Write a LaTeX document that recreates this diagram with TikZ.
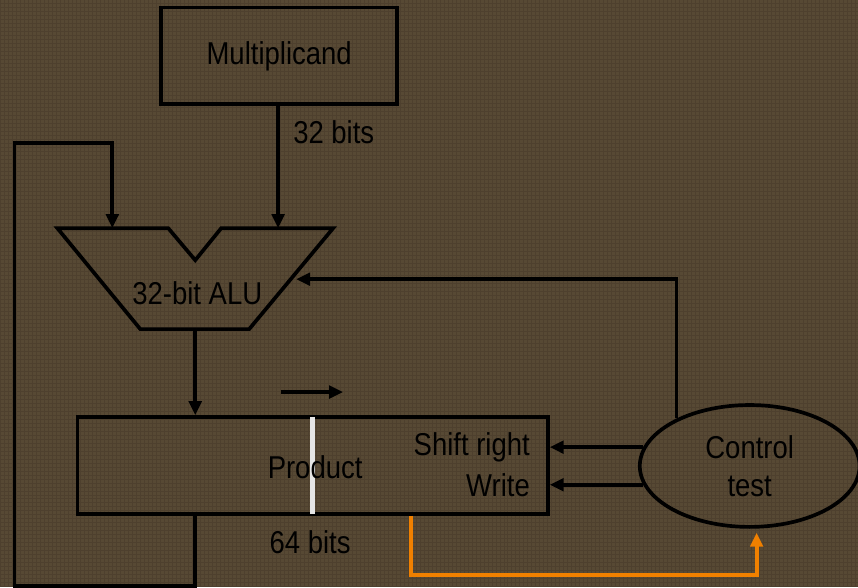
\documentclass[tikz,border=0pt]{standalone}
\usepackage{fontspec}
\setmainfont{Liberation Sans}[FakeStretch=0.87]
\usetikzlibrary{arrows.meta,positioning,calc,shapes.geometric}
\definecolor{mbrown}{HTML}{574934}
\definecolor{mgrid}{HTML}{46392A}
\definecolor{morange}{HTML}{F08000}
\tikzset{
  lbl/.style={font=\fontsize{18}{21.5}\selectfont,text=black,inner sep=1pt},
  reg/.style={draw=black,line width=2.1pt,minimum height=1.94cm,inner sep=0pt,lbl},
  wire/.style={line width=2.1pt,draw=black},
  arr/.style={-{Triangle[length=0.28cm,width=0.25cm]},line width=2.1pt,draw=black},
  oarr/.style={arr,color=morange},
}
\begin{document}
\begin{tikzpicture}[line join=miter]
  % background
  \fill[mbrown] (0,0) rectangle (17.16,11.74);
  \draw[mgrid,line width=0.5pt,opacity=0.5,step=0.08] (0,0) grid (17.16,11.74);
  \useasboundingbox (0,0) rectangle (17.16,11.74);
  % registers
  \node[reg,minimum width=4.72cm] (mcand) at (5.58,10.63) {Multiplicand};
  \node[lbl,anchor=west] (w32) at (5.82,9.10) {32 bits};
  \node[reg,minimum width=9.42cm] (prod) at (6.25,2.43) {};
  \draw[white!90!black,line width=2.8pt,shorten <=1.1pt,shorten >=1.1pt] (prod.north) -- (prod.south);
  \node[lbl] (ptxt) at (6.30,2.40) {Product};
  \node[lbl,anchor=east] (shr) at (10.64,2.80) {Shift right};
  \node[lbl,anchor=east] (wr) at (10.64,2.04) {Write};
  \node[lbl] (w64) at (6.20,0.90) {64 bits};
  % ALU
  \draw[wire] (1.14,7.18) -- (3.36,7.18) -- (3.90,6.54) -- (4.42,7.18) -- (6.66,7.18) -- (4.98,5.16) -- (2.80,5.16) -- cycle;
  \node[lbl] (alu) at (3.94,5.88) {32-bit ALU};
  \coordinate (aluA) at (2.24,7.18); \coordinate (aluB) at (5.56,7.18);
  \coordinate (aluR) at (5.92,6.16); \coordinate (aluO) at (3.90,5.16);
  % control
  \node[ellipse,draw,line width=2.1pt,minimum width=4.4cm,minimum height=2.44cm,lbl,align=center] (ctrl) at (15.00,2.42) {Control\\test};
  % wires
  \draw[arr] (mcand.south -| aluB) -- (aluB);
  \draw[arr] (aluO) -- (prod.north -| aluO);
  \draw[arr] (prod.south -| aluO) -- ++(0,-1.40) -| (0.28,8.88) -| (aluA);
  \draw[arr] (ctrl.147) |- (aluR);
  \draw[arr] (ctrl.170) -- (ctrl.170 -| prod.east);
  \draw[arr] (ctrl.190) -- (ctrl.190 -| prod.east);
  \draw[oarr] ([xshift=1.97cm]prod.south) -- ++(0,-1.18) -| ([xshift=0.14cm,yshift=-0.08cm]ctrl.south);
  % shift direction
  \coordinate (sh0) at (5.62,3.90); \coordinate (sh1) at (6.86,3.90);
  \draw[arr] (sh0) -- (sh1);
\end{tikzpicture}
\end{document}
